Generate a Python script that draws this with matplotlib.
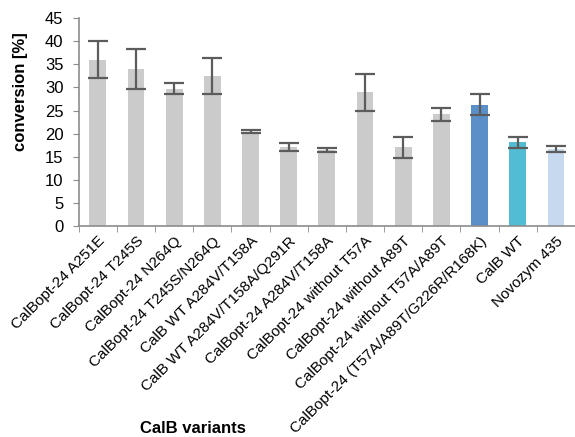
import numpy as np
import matplotlib.pyplot as plt

plt.rcParams['font.family'] = ['Liberation Sans', 'DejaVu Sans']

variants = [
    'CalBopt-24 A251E',
    'CalBopt-24 T245S',
    'CalBopt-24 N264Q',
    'CalBopt-24 T245S/N264Q',
    'CalB WT A284V/T158A',
    'CalB WT A284V/T158A/Q291R',
    'CalBopt-24 A284V/T158A',
    'CalBopt-24 without T57A',
    'CalBopt-24 without A89T',
    'CalBopt-24 without T57A/A89T',
    'CalBopt-24 (T57A/A89T/G226R/R168K)',
    'CalB WT',
    'Novozym 435',
]
conversion = [36.0, 34.0, 29.7, 32.5, 20.4, 17.1, 16.4, 29.0, 17.0, 24.2, 26.3, 18.1, 16.6]
error = [4.0, 4.3, 1.2, 3.9, 0.3, 0.8, 0.5, 4.0, 2.2, 1.4, 2.2, 1.2, 0.7]

bar_colors = ['#cbcbcb'] * 10 + ['#5a8fc8', '#52bcd4', '#c6d9ee']

fig = plt.figure(figsize=(5.75, 4.37), dpi=100)
ax = fig.add_axes([0.137, 0.4835, 0.863, 0.4745])

x = np.arange(len(variants))
ax.bar(x, conversion, width=0.44, color=bar_colors, zorder=2)
ax.errorbar(x, conversion, yerr=error, fmt='none', ecolor='#5c5c5c',
            elinewidth=1.6, capsize=7.5, capthick=1.6, zorder=3)

ax.set_xlim(-0.5, len(variants) - 0.5)
ax.set_ylim(0, 45)
ax.set_yticks(np.arange(0, 46, 5))
ax.tick_params(axis='y', labelsize=12, length=4, color='#8c8c8c', pad=7)

# category labels sit at bar centres, tick marks sit between categories
ax.set_xticks(x)
ax.set_xticklabels(variants, rotation=45, ha='right', rotation_mode='anchor',
                   fontsize=11)
ax.tick_params(axis='x', length=0, pad=6)
ax.set_xticks(np.arange(-0.5, len(variants), 1), minor=True)
ax.tick_params(axis='x', which='minor', length=4, color='#8c8c8c')

for side in ('top', 'right'):
    ax.spines[side].set_visible(False)
for side in ('left', 'bottom'):
    ax.spines[side].set_color('#8c8c8c')
    ax.spines[side].set_linewidth(1.2)

fig.text(0.035, 0.79, 'conversion [%]', rotation=90, ha='center', va='center',
         fontsize=12, fontweight='bold')
fig.text(0.336, 0.02, 'CalB variants', ha='center', va='center',
         fontsize=12, fontweight='bold')

fig.savefig('out.png', dpi=100)
